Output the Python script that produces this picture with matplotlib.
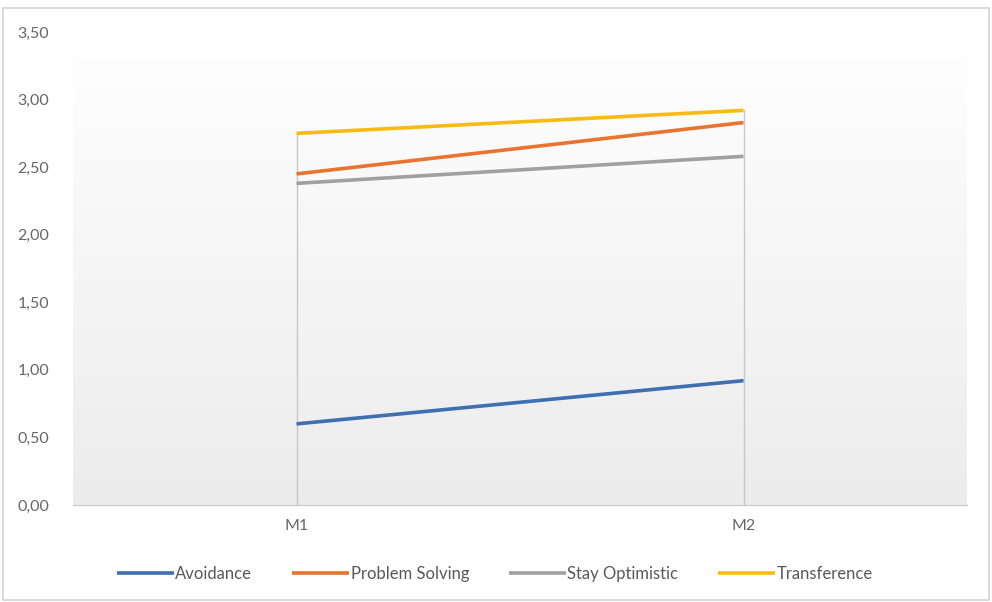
import numpy as np
import matplotlib
matplotlib.use("Agg")
from matplotlib import pyplot as plt
from matplotlib.patches import Rectangle

categories = ["M1", "M2"]
series_names = ["Avoidance", "Problem Solving", "Stay Optimistic", "Transference"]
avoidance = [0.60, 0.92]
problem_solving = [2.45, 2.83]
stay_optimistic = [2.38, 2.58]
transference = [2.75, 2.92]
colors = ["#3e6fb0", "#e8742f", "#a0a0a0", "#f7bb12"]
yticks = [0.0, 0.5, 1.0, 1.5, 2.0, 2.5, 3.0, 3.5]

plt.rcParams['font.family'] = ['Lato', 'DejaVu Sans']

fig = plt.figure(figsize=(9.92, 6.02), dpi=100)
ax = fig.add_axes([73/992, 97/602, 894/992, 473/602])

x = np.arange(len(categories))
values = [avoidance, problem_solving, stay_optimistic, transference]

# gradient background like the excel plot area
grad = np.linspace(1.0, 0.925, 256).reshape(-1, 1)
ax.imshow(np.dstack([grad, grad, grad]), extent=(-0.5, 1.5, 0, 3.5),
          aspect='auto', origin='upper', zorder=0)

# drop lines
tops = np.max(values, axis=0)
for xi, t in zip(x, tops):
    ax.plot([xi, xi], [0, t], color="#c8c8c8", lw=1.0, zorder=1)

for name, vals, c in zip(series_names, values, colors):
    ax.plot(x, vals, color=c, lw=2.6, label=name, solid_capstyle='butt', zorder=3)

ax.set_xlim(-0.5, 1.5)
ax.set_ylim(0, 3.5)
ax.set_xticks(x)
ax.set_xticklabels(categories)
ax.set_yticks(yticks)
ax.set_yticklabels([f"{v:.2f}".replace(".", ",") for v in yticks])
ax.tick_params(axis='both', length=0, labelsize=11.5, colors="#666666")
ax.tick_params(axis='y', pad=17)
ax.tick_params(axis='x', pad=10)
for s in ["top", "right", "left"]:
    ax.spines[s].set_visible(False)
ax.spines["bottom"].set_color("#c8c8c8")

leg = fig.legend(loc='center', bbox_to_anchor=(495/992, 1 - 574/602), ncol=4,
                 frameon=False, fontsize=12, handlelength=3.4, handletextpad=0.1,
                 columnspacing=2.4)
for t in leg.get_texts():
    t.set_color("#595959")

fig.patches.append(Rectangle((3/992, 2/602), 986/992, 592/602, transform=fig.transFigure,
                             fill=False, edgecolor="#d4d4d4", lw=1.2))

fig.savefig("out.png", dpi=100)
